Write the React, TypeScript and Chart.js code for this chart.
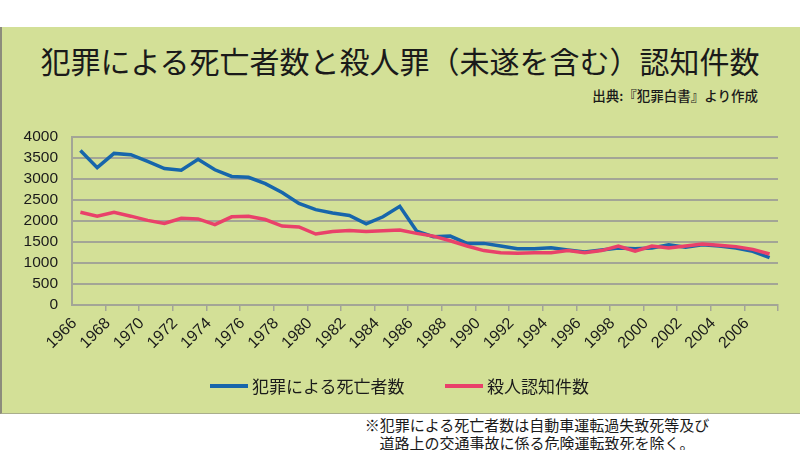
import React, { useEffect, useRef } from "react";
import { Chart, registerables } from "chart.js";

Chart.register(...registerables);

const years = [
  "1966", "1967", "1968", "1969", "1970", "1971", "1972", "1973", "1974", "1975",
  "1976", "1977", "1978", "1979", "1980", "1981", "1982", "1983", "1984", "1985",
  "1986", "1987", "1988", "1989", "1990", "1991", "1992", "1993", "1994", "1995",
  "1996", "1997", "1998", "1999", "2000", "2001", "2002", "2003", "2004", "2005",
  "2006", "2007",
];

const deathsByCrime = [
  3680, 3270, 3610, 3580, 3420, 3250, 3210, 3470, 3220, 3060,
  3040, 2890, 2680, 2420, 2270, 2190, 2130, 1930, 2100, 2350,
  1760, 1625, 1640, 1467, 1467, 1404, 1341, 1341, 1365, 1310,
  1262, 1310, 1357, 1341, 1357, 1436, 1373, 1436, 1404, 1357,
  1278, 1128,
];

const murderCases = [
  2210, 2115, 2205, 2115, 2015, 1940, 2065, 2050, 1915, 2100,
  2115, 2035, 1880, 1860, 1690, 1750, 1775, 1750, 1765, 1785,
  1705, 1640, 1530, 1405, 1295, 1245, 1230, 1245, 1245, 1295,
  1245, 1295, 1405, 1280, 1405, 1355, 1405, 1450, 1420, 1390,
  1325, 1215,
];

const seriesNames = ["犯罪による死亡者数", "殺人認知件数"];
const titleText = "犯罪による死亡者数と殺人罪（未遂を含む）認知件数";
const sourceText = "出典:『犯罪白書』より作成";
const noteLines = [
  "※犯罪による死亡者数は自動車運転過失致死等及び",
  "道路上の交通事故に係る危険運転致死を除く。",
];

const BLUE = "#1766ab";
const RED = "#e9416a";
const GRID = "#a3a596";
const TEXT = "#1a1a1a";
const CJK = '"Noto Sans CJK JP", "Noto Sans", sans-serif';
const LATIN = '"Liberation Sans", Arial, sans-serif';

export default function App() {
  const canvasRef = useRef<HTMLCanvasElement | null>(null);

  useEffect(() => {
    const canvas = canvasRef.current;
    if (!canvas) return;
    const chart = new Chart(canvas, {
      type: "line",
      data: {
        labels: years,
        datasets: [
          {
            label: seriesNames[0],
            data: deathsByCrime,
            borderColor: BLUE,
            backgroundColor: BLUE,
            borderWidth: 3.5,
            pointRadius: 0,
            tension: 0,
            order: 1,
          },
          {
            label: seriesNames[1],
            data: murderCases,
            borderColor: RED,
            backgroundColor: RED,
            borderWidth: 3.5,
            pointRadius: 0,
            tension: 0,
            order: 0,
          },
        ],
      },
      options: {
        responsive: false,
        animation: false,
        events: [],
        layout: { padding: { top: 137, right: 22, bottom: 59, left: 0 } },
        plugins: {
          legend: { display: false },
          tooltip: { enabled: false },
          title: { display: false },
        },
        scales: {
          x: {
            type: "category",
            offset: true,
            afterFit: (scale: any) => {
              scale.height = 50;
            },
            grid: {
              offset: true,
              drawOnChartArea: false,
              drawTicks: true,
              tickLength: 6,
              lineWidth: 1.5,
              color: (ctx: any) => {
                const i = ctx.index;
                if (i === undefined) return GRID;
                if (i === 0) return "rgba(0,0,0,0)";
                return i % 2 === 0 ? GRID : "rgba(0,0,0,0)";
              },
            },
            border: { display: true, color: GRID, width: 2 },
            ticks: {
              autoSkip: false,
              minRotation: 45,
              maxRotation: 45,
              padding: 3,
              labelOffset: -6,
              color: TEXT,
              font: { family: LATIN, size: 16 },
              callback: (_v: any, index: number) =>
                index % 2 === 0 ? years[index] : "",
            },
          },
          y: {
            min: 0,
            max: 4000,
            afterFit: (scale: any) => {
              scale.width = 72;
            },
            grid: {
              color: GRID,
              lineWidth: 2,
              drawTicks: false,
            },
            border: { display: true, color: GRID, width: 2 },
            ticks: {
              stepSize: 500,
              autoSkip: false,
              padding: 14,
              color: TEXT,
              font: { family: LATIN, size: 15.5 },
              callback: (v: any) => String(v),
            },
          },
        },
      },
    });
    return () => chart.destroy();
  }, []);

  const legendItem = (
    color: string,
    lineLeft: number,
    textLeft: number,
    text: string
  ) => (
    <>
      <div
        style={{
          position: "absolute",
          left: lineLeft,
          top: 384,
          width: 38,
          height: 4,
          background: color,
        }}
      />
      <div
        style={{
          position: "absolute",
          left: textLeft,
          top: 376,
          height: 20,
          lineHeight: "20px",
          fontSize: 17,
          fontFamily: CJK,
          color: TEXT,
          whiteSpace: "nowrap",
        }}
      >
        {text}
      </div>
    </>
  );

  return (
    <div
      style={{
        position: "fixed",
        left: 0,
        top: 0,
        width: 800,
        height: 450,
        background: "#ffffff",
        overflow: "hidden",
        fontFamily: CJK,
      }}
    >
      <div
        style={{
          position: "absolute",
          left: 0,
          top: 27,
          width: 800,
          height: 387,
          background: "#d3e097",
          borderLeft: "2px solid #8c8c7c",
          borderBottom: "1px solid #a9ae8c",
          boxSizing: "border-box",
        }}
      />
      <div
        style={{
          position: "absolute",
          left: 0,
          top: 44,
          width: 800,
          textAlign: "center",
          fontSize: 30,
          lineHeight: "32px",
          color: TEXT,
          whiteSpace: "nowrap",
        }}
      >
        {titleText}
      </div>
      <div
        style={{
          position: "absolute",
          right: 42,
          top: 87,
          fontSize: 13.5,
          lineHeight: "16px",
          fontWeight: 500,
          color: TEXT,
          whiteSpace: "nowrap",
        }}
      >
        {sourceText}
      </div>
      <canvas
        ref={canvasRef}
        width={800}
        height={414}
        style={{ position: "absolute", left: 0, top: 0, width: 800, height: 414 }}
      />
      {legendItem(BLUE, 210, 252, seriesNames[0])}
      {legendItem(RED, 445, 487, seriesNames[1])}
      <div
        style={{
          position: "absolute",
          left: 337,
          top: 416,
          width: 400,
          textAlign: "center",
          fontSize: 15,
          lineHeight: "18px",
          color: TEXT,
          whiteSpace: "nowrap",
        }}
      >
        {noteLines.map((l, i) => (
          <div key={i}>{l}</div>
        ))}
      </div>
    </div>
  );
}
